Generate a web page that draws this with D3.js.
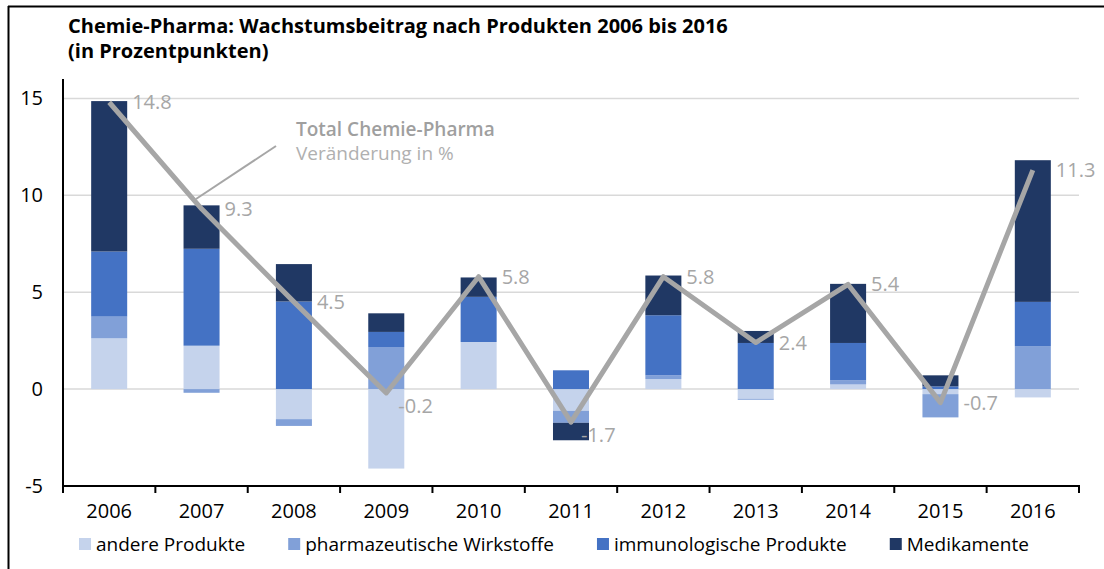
<!DOCTYPE html>
<html>
<head>
<meta charset="utf-8">
<script src="https://cdn.jsdelivr.net/npm/d3@7"></script>
<style>
  body { margin: 0; background: white; }
  text { font-family: "Open Sans", sans-serif; }
</style>
</head>
<body>
<div class="wrapper"></div>
<script>
// values (percentage points)
const years = ["2006", "2007", "2008", "2009", "2010", "2011", "2012", "2013", "2014", "2015", "2016"];
const andere = [2.62, 2.24, -1.55, -4.1, 2.43, -1.12, 0.52, -0.5, 0.24, -0.26, -0.43];
const pharma = [1.12, -0.19, -0.35, 2.17, 0, -0.62, 0.19, -0.05, 0.21, -1.2, 2.22];
const immuno = [3.36, 5.0, 4.52, 0.78, 2.33, 0.97, 3.1, 2.38, 1.93, 0.14, 2.28];
const medi = [7.76, 2.24, 1.93, 0.96, 1.0, -0.9, 2.05, 0.62, 3.05, 0.57, 7.31];
const total = [14.8, 9.3, 4.5, -0.2, 5.8, -1.7, 5.8, 2.4, 5.4, -0.7, 11.3];
const yTicks = [-5, 0, 5, 10, 15];
const seriesNames = ["andere Produkte", "pharmazeutische Wirkstoffe", "immunologische Produkte", "Medikamente"];

const colors = ["#c5d3ec", "#81a0d8", "#4472c4", "#203864"];
const grey = "#a6a6a6";

const W = 1104, H = 569;
const plotL = 63, plotR = 1079, plotT = 79, plotB = 486;

const svg = d3.select(".wrapper")
  .append("svg")
  .attr("width", W)
  .attr("height", H)
  .style("background-color", "white");

// frame lines (top and left only)
svg.append("line")
  .attr("x1", 8).attr("y1", 6.5).attr("x2", W).attr("y2", 6.5)
  .attr("stroke", "black").attr("stroke-width", 2);
svg.append("line")
  .attr("x1", 8.5).attr("y1", 6).attr("x2", 8.5).attr("y2", H)
  .attr("stroke", "black").attr("stroke-width", 2);

// title
svg.append("text")
  .attr("x", 68).attr("y", 32.5)
  .style("font-size", "20px").style("font-weight", 700)
  .text("Chemie-Pharma: Wachstumsbeitrag nach Produkten 2006 bis 2016");
svg.append("text")
  .attr("x", 68).attr("y", 58)
  .style("font-size", "20px").style("font-weight", 700)
  .text("(in Prozentpunkten)");

const x = d3.scaleBand().domain(years).range([plotL, plotR]);
const y = d3.scaleLinear().domain([-5, 16]).range([plotB, plotT]);
const barW = x.bandwidth() * 0.39;

// gridlines
svg.append("g")
  .selectAll("line")
  .data(yTicks.filter(d => d > -5))
  .enter()
  .append("line")
  .attr("x1", plotL).attr("x2", plotR)
  .attr("y1", d => y(d)).attr("y2", d => y(d))
  .attr("stroke", "#d9d9d9")
  .attr("stroke-width", 1.5);

// stacked bars
const rows = years.map((yr, i) => ({
  year: yr, andere: andere[i], pharma: pharma[i], immuno: immuno[i], medi: medi[i]
}));
const stack = d3.stack()
  .keys(["andere", "pharma", "immuno", "medi"])
  .offset(d3.stackOffsetDiverging);
const layers = stack(rows);

svg.append("g")
  .selectAll("g")
  .data(layers)
  .enter()
  .append("g")
  .attr("fill", (d, i) => colors[i])
  .selectAll("rect")
  .data(d => d)
  .enter()
  .append("rect")
  .attr("x", d => x(d.data.year) + (x.bandwidth() - barW) / 2)
  .attr("width", barW)
  .attr("y", d => y(Math.max(d[0], d[1])))
  .attr("height", d => Math.abs(y(d[0]) - y(d[1])));

// y axis
const yAxis = svg.append("g")
  .attr("transform", "translate(" + plotL + ",0)")
  .call(d3.axisLeft(y).tickValues(yTicks).tickSize(0).tickPadding(20).tickFormat(d => String(d)));
yAxis.select(".domain").remove();
yAxis.selectAll("text")
  .style("font-family", "'Open Sans', sans-serif")
  .style("font-size", "20px")
  .attr("fill", "#000");
svg.append("line")
  .attr("x1", plotL).attr("x2", plotL)
  .attr("y1", plotT).attr("y2", plotB + 1)
  .attr("stroke", "black").attr("stroke-width", 2);

// x axis
const xAxis = svg.append("g")
  .attr("transform", "translate(0," + plotB + ")")
  .call(d3.axisBottom(x).tickSize(0).tickPadding(18));
xAxis.select(".domain").remove();
xAxis.selectAll("text")
  .style("font-family", "'Open Sans', sans-serif")
  .style("font-size", "20px")
  .attr("fill", "#000");
svg.append("line")
  .attr("x1", plotL - 1).attr("x2", plotR + 1)
  .attr("y1", plotB).attr("y2", plotB)
  .attr("stroke", "black").attr("stroke-width", 2);
svg.append("g")
  .selectAll("line")
  .data(years.concat(["end"]))
  .enter()
  .append("line")
  .attr("x1", (d, i) => plotL + i * x.bandwidth())
  .attr("x2", (d, i) => plotL + i * x.bandwidth())
  .attr("y1", plotB).attr("y2", plotB + 7)
  .attr("stroke", "black").attr("stroke-width", 2);

// total line
const cx = i => x(years[i]) + x.bandwidth() / 2;
const line = d3.line()
  .x((d, i) => cx(i))
  .y(d => y(d));
svg.append("path")
  .datum(total)
  .attr("d", line)
  .attr("fill", "none")
  .attr("stroke", grey)
  .attr("stroke-width", 5)
  .attr("stroke-linejoin", "round");

// labels on the line (two were nudged below the point in the original)
const nudge = { "2009": [12, 13], "2011": [10, 13] };
svg.append("g")
  .selectAll("text")
  .data(total)
  .enter()
  .append("text")
  .attr("x", (d, i) => cx(i) + (nudge[years[i]] ? nudge[years[i]][0] : 23))
  .attr("y", (d, i) => y(d) + (nudge[years[i]] ? nudge[years[i]][1] : 0))
  .attr("dy", "0.35em")
  .attr("fill", grey)
  .style("font-size", "20px")
  .text(d => d.toFixed(1));

// annotation
svg.append("line")
  .attr("x1", 276).attr("y1", 146)
  .attr("x2", 196).attr("y2", 199)
  .attr("stroke", grey).attr("stroke-width", 2);
svg.append("text")
  .attr("x", 296).attr("y", 136)
  .attr("fill", "#9f9f9f")
  .style("font-size", "19px").style("font-weight", 600)
  .text("Total Chemie-Pharma");
svg.append("text")
  .attr("x", 296).attr("y", 160)
  .attr("fill", "#b0b0b0")
  .style("font-size", "19px")
  .text("Veränderung in %");

// legend
const legend = svg.append("g");
let lx = 79;
seriesNames.forEach((name, i) => {
  legend.append("rect")
    .attr("x", lx).attr("y", 538)
    .attr("width", 12).attr("height", 12)
    .attr("fill", colors[i]);
  const t = legend.append("text")
    .attr("x", lx + 17).attr("y", 551)
    .style("font-size", "19px")
    .attr("fill", "#000")
    .text(name);
  lx = lx + 17 + t.node().getComputedTextLength() + 43;
});
</script>
</body>
</html>
